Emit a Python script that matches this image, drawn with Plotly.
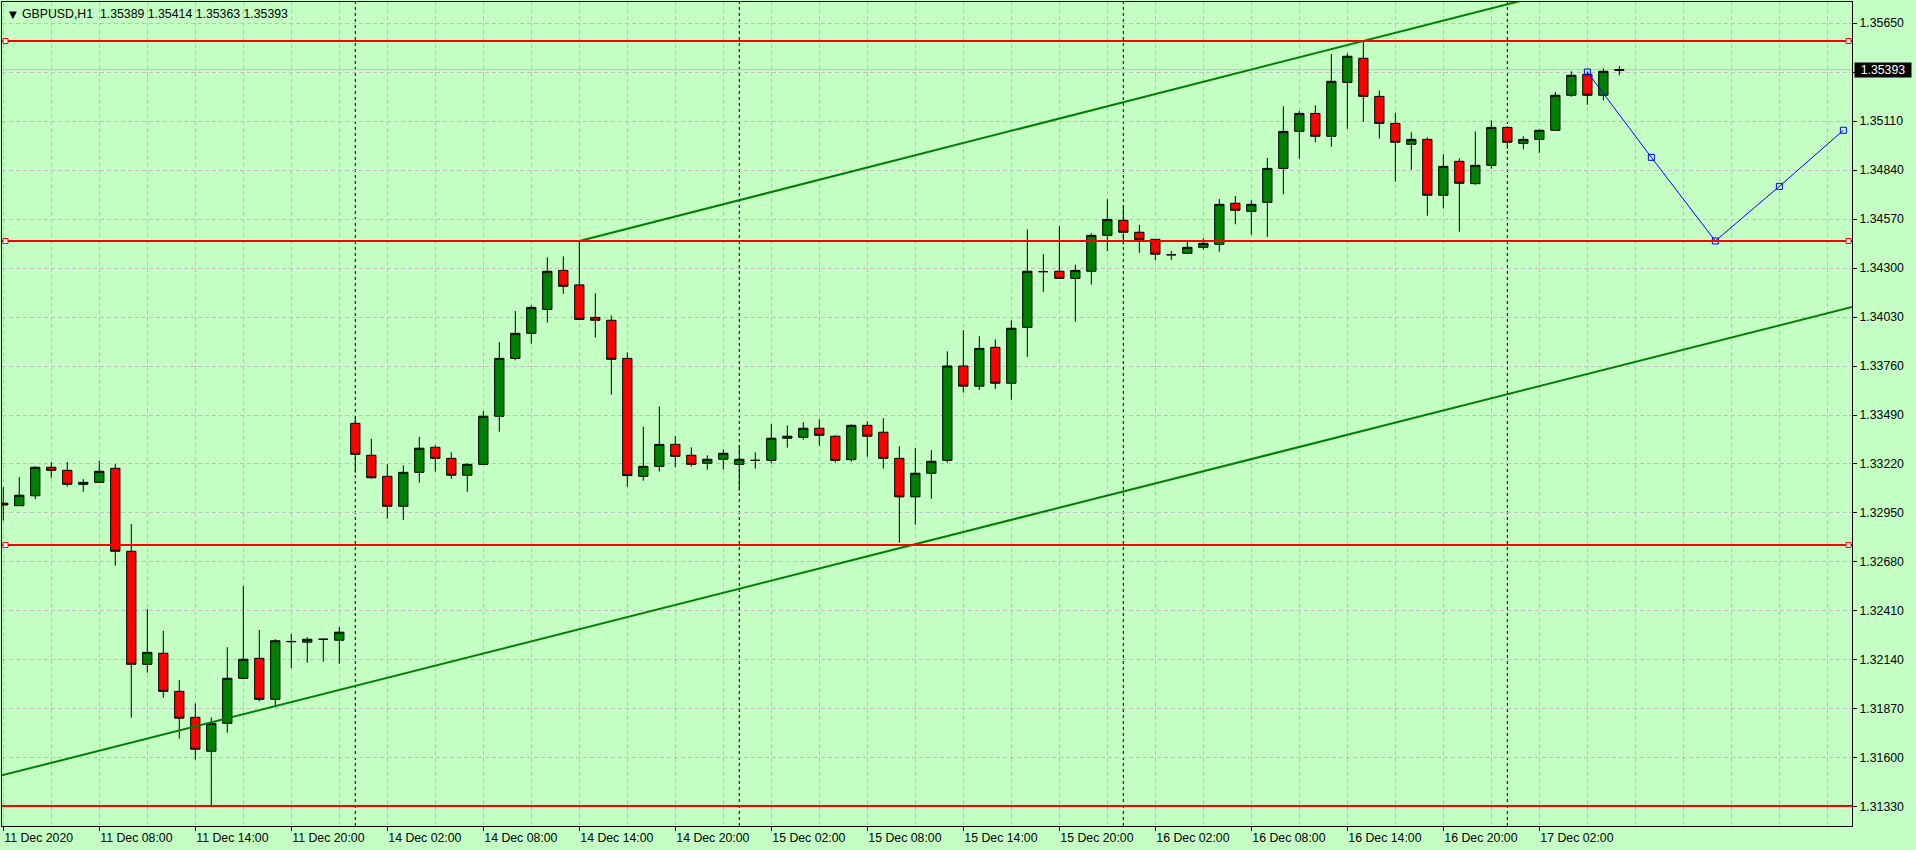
import plotly.graph_objects as go

# ---------------- data ----------------
symbol = "GBPUSD,H1"

bar_open = [1.33004, 1.32990, 1.33045, 1.33202, 1.33185, 1.33108, 1.33119, 1.33196, 1.32739, 1.32116,
            1.32177, 1.31967, 1.31824, 1.31637, 1.31791, 1.32039, 1.32149, 1.31923, 1.32240, 1.32238,
            1.32254, 1.32249, 1.33444, 1.33268, 1.33152, 1.32987, 1.33174, 1.33312, 1.33251, 1.33158,
            1.33218, 1.33483, 1.33802, 1.33940, 1.34072, 1.34287, 1.34207, 1.34028, 1.34012, 1.33802,
            1.33152, 1.33207, 1.33328, 1.33268, 1.33224, 1.33246, 1.33218, 1.33240, 1.33240, 1.33362,
            1.33367, 1.33417, 1.33373, 1.33244, 1.33433, 1.33395, 1.33251, 1.33039, 1.33169, 1.33240,
            1.33760, 1.33649, 1.33863, 1.33665, 1.33973, 1.34280, 1.34282, 1.34243, 1.34282, 1.34480,
            1.34563, 1.34497, 1.34458, 1.34373, 1.34381, 1.34414, 1.34431, 1.34657, 1.34612, 1.34662,
            1.34849, 1.35053, 1.35152, 1.35026, 1.35323, 1.35456, 1.35246, 1.35097, 1.34982, 1.35009,
            1.34701, 1.34888, 1.34765, 1.34866, 1.35075, 1.34987, 1.35009, 1.35059, 1.35252, 1.35367,
            1.35252, 1.35389]

bar_high = [1.33092, 1.33148, 1.33207, 1.33231, 1.33231, 1.33137, 1.33237, 1.33220, 1.32889, 1.32421,
            1.32300, 1.32030, 1.31901, 1.31824, 1.32210, 1.32548, 1.32305, 1.32254, 1.32283, 1.32265,
            1.32260, 1.32322, 1.33485, 1.33358, 1.33218, 1.33213, 1.33369, 1.33323, 1.33284, 1.33224,
            1.33512, 1.33891, 1.34063, 1.34094, 1.34359, 1.34364, 1.34449, 1.34161, 1.34039, 1.33835,
            1.33425, 1.33537, 1.33374, 1.33312, 1.33268, 1.33301, 1.33323, 1.33284, 1.33440, 1.33433,
            1.33450, 1.33466, 1.33378, 1.33439, 1.33455, 1.33472, 1.33317, 1.33308, 1.33297, 1.33841,
            1.33957, 1.33924, 1.33907, 1.34012, 1.34513, 1.34376, 1.34532, 1.34318, 1.34491, 1.34679,
            1.34640, 1.34538, 1.34460, 1.34394, 1.34447, 1.34464, 1.34680, 1.34697, 1.34673, 1.34906,
            1.35191, 1.35165, 1.35197, 1.35479, 1.35483, 1.35551, 1.35279, 1.35156, 1.35048, 1.35020,
            1.34927, 1.34904, 1.35053, 1.35114, 1.35080, 1.35026, 1.35064, 1.35270, 1.35384, 1.35384,
            1.35400, 1.35414]

bar_low = [1.32908, 1.32990, 1.33027, 1.33144, 1.33095, 1.33067, 1.33119, 1.32660, 1.31822, 1.32070,
           1.31932, 1.31706, 1.31591, 1.31335, 1.31739, 1.32034, 1.31912, 1.31879, 1.32095, 1.32125,
           1.32131, 1.32120, 1.33172, 1.33139, 1.32919, 1.32911, 1.33117, 1.33178, 1.33139, 1.33067,
           1.33218, 1.33398, 1.33791, 1.33883, 1.33999, 1.34158, 1.34017, 1.33917, 1.33602, 1.33094,
           1.33128, 1.33178, 1.33202, 1.33206, 1.33189, 1.33189, 1.33073, 1.33194, 1.33222, 1.33310,
           1.33354, 1.33321, 1.33228, 1.33233, 1.33260, 1.33194, 1.32786, 1.32886, 1.33028, 1.33228,
           1.33614, 1.33628, 1.33634, 1.33574, 1.33811, 1.34169, 1.34243, 1.34004, 1.34208, 1.34392,
           1.34431, 1.34384, 1.34344, 1.34344, 1.34379, 1.34403, 1.34390, 1.34541, 1.34483, 1.34472,
           1.34706, 1.34902, 1.34993, 1.34968, 1.35068, 1.35106, 1.35013, 1.34776, 1.34842, 1.34588,
           1.34628, 1.34500, 1.34759, 1.34847, 1.34957, 1.34954, 1.34935, 1.35059, 1.35244, 1.35200,
           1.35224, 1.35363]

bar_close = [1.32994, 1.33048, 1.33202, 1.33185, 1.33108, 1.33119, 1.33180, 1.32739, 1.32116, 1.32182,
             1.31967, 1.31819, 1.31648, 1.31791, 1.32039, 1.32144, 1.31923, 1.32246, 1.32242, 1.32254,
             1.32254, 1.32293, 1.33273, 1.33144, 1.32987, 1.33174, 1.33307, 1.33251, 1.33158, 1.33218,
             1.33483, 1.33802, 1.33940, 1.34083, 1.34282, 1.34199, 1.34017, 1.34012, 1.33797, 1.33156,
             1.33207, 1.33328, 1.33262, 1.33218, 1.33246, 1.33279, 1.33246, 1.33240, 1.33362, 1.33373,
             1.33417, 1.33378, 1.33240, 1.33433, 1.33373, 1.33251, 1.33039, 1.33169, 1.33235, 1.33760,
             1.33649, 1.33857, 1.33665, 1.33968, 1.34282, 1.34280, 1.34243, 1.34287, 1.34480, 1.34568,
             1.34497, 1.34456, 1.34376, 1.34373, 1.34414, 1.34436, 1.34651, 1.34618, 1.34651, 1.34849,
             1.35053, 1.35152, 1.35026, 1.35329, 1.35467, 1.35246, 1.35097, 1.34993, 1.35009, 1.34701,
             1.34860, 1.34767, 1.34866, 1.35075, 1.34993, 1.35009, 1.35059, 1.35252, 1.35362, 1.35252,
             1.35384, 1.35393]

tick_bars = [0, 6, 12, 18, 24, 30, 36, 42, 48, 54, 60, 66, 72, 78, 84, 90, 96]
tick_labels = ["11 Dec 2020", "11 Dec 08:00", "11 Dec 14:00", "11 Dec 20:00", "14 Dec 02:00",
               "14 Dec 08:00", "14 Dec 14:00", "14 Dec 20:00", "15 Dec 02:00", "15 Dec 08:00",
               "15 Dec 14:00", "15 Dec 20:00", "16 Dec 02:00", "16 Dec 08:00", "16 Dec 14:00",
               "16 Dec 20:00", "17 Dec 02:00"]
grid_bars = list(range(0, 118, 3))
day_start_bars = [22, 46, 70, 94]

price_ticks = [1.31330, 1.31600, 1.31870, 1.32140, 1.32410, 1.32680, 1.32950, 1.33220, 1.33490,
               1.33760, 1.34030, 1.34300, 1.34570, 1.34840, 1.35110, 1.35380, 1.35650]
price_tick_labels = ["1.31330", "1.31600", "1.31870", "1.32140", "1.32410", "1.32680", "1.32950",
                     "1.33220", "1.33490", "1.33760", "1.34030", "1.34300", "1.34570", "1.34840",
                     "1.35110", "", "1.35650"]

level_lines = [1.35551, 1.34449, 1.32774]
low_line = 1.31335

upper_trend_x = [36, 85]
upper_trend_y = [1.34449, 1.35551]
lower_trend_x = [0, 115]
lower_trend_y = [1.31506, 1.34073]

forecast_x = [99, 103, 107, 111, 115]
forecast_y = [1.35380, 1.34910, 1.34449, 1.34750, 1.35059]

x_range = [-0.08, 115.54]
y_range = [1.31225, 1.35766]

# ---------------- styles ----------------
BG = "#C4FFC4"
GRID = "#C6BCC6"
FONT = "Liberation Sans"
FS = 12.3

fig = go.Figure()

fig.add_trace(go.Candlestick(
    x=list(range(len(bar_open))),
    open=bar_open, high=bar_high, low=bar_low, close=bar_close,
    increasing=dict(line=dict(color="black", width=1), fillcolor="#008000"),
    decreasing=dict(line=dict(color="black", width=1), fillcolor="#FF0000"),
    whiskerwidth=0, showlegend=False, hoverinfo="skip",
))

# trend lines (rays through anchors)
su = (upper_trend_y[1] - upper_trend_y[0]) / (upper_trend_x[1] - upper_trend_x[0])
xe = x_range[1] + 20
fig.add_trace(go.Scatter(
    x=[upper_trend_x[0], xe],
    y=[upper_trend_y[0], upper_trend_y[0] + su * (xe - upper_trend_x[0])],
    mode="lines", line=dict(color="#008000", width=2), showlegend=False, hoverinfo="skip"))
sl = (lower_trend_y[1] - lower_trend_y[0]) / (lower_trend_x[1] - lower_trend_x[0])
xs0, xs1 = x_range[0] - 2, x_range[1] + 2
fig.add_trace(go.Scatter(
    x=[xs0, xs1],
    y=[lower_trend_y[0] + sl * (xs0 - lower_trend_x[0]), lower_trend_y[0] + sl * (xs1 - lower_trend_x[0])],
    mode="lines", line=dict(color="#008000", width=2), showlegend=False, hoverinfo="skip"))

# forecast polyline
fig.add_trace(go.Scatter(
    x=forecast_x, y=forecast_y, mode="lines+markers",
    line=dict(color="#0000FF", width=1),
    marker=dict(symbol="square-open", size=6, color="#0000FF", line=dict(width=1)),
    showlegend=False, hoverinfo="skip"))

shapes = []
# day separators
for b in day_start_bars:
    shapes.append(dict(type="line", xref="x", yref="paper", x0=b, x1=b, y0=0, y1=1,
                       line=dict(color="black", width=1, dash="3px,3px"), layer="between"))
# bid line
shapes.append(dict(type="line", xref="paper", yref="y", x0=0, x1=1, y0=bar_close[-1], y1=bar_close[-1],
                   line=dict(color="#C0C0C0", width=1), layer="between"))
# horizontal levels
for lv in level_lines + [low_line]:
    shapes.append(dict(type="line", xref="paper", yref="y", x0=0, x1=1, y0=lv, y1=lv,
                       line=dict(color="#FF0000", width=2), layer="above"))
# handles on levels
for lv in level_lines:
    for anchor, a, b in [(0, 1, 6), (1, -6, -1)]:
        shapes.append(dict(type="rect", xref="paper", yref="y", xsizemode="pixel", ysizemode="pixel",
                           xanchor=anchor, yanchor=lv, x0=a, x1=b, y0=-2.5, y1=2.5,
                           line=dict(color="#FF0000", width=1), fillcolor="white", layer="above"))

annotations = [
    dict(xref="paper", yref="paper", x=0, y=1, xanchor="left", yanchor="top", xshift=5, yshift=-5,
         text="▼", showarrow=False, font=dict(family="DejaVu Sans", size=10, color="black")),
    dict(xref="paper", yref="paper", x=0, y=1, xanchor="left", yanchor="top", xshift=18, yshift=-3,
         text=f"{symbol}\u00a0\u00a0{bar_open[-1]:.5f} {bar_high[-1]:.5f} {bar_low[-1]:.5f} {bar_close[-1]:.5f}",
         showarrow=False, font=dict(family=FONT, size=FS, color="black")),
    dict(xref="paper", yref="y", x=1, y=bar_close[-1], xanchor="left", yanchor="middle", xshift=2,
         text=f"{bar_close[-1]:.5f}", showarrow=False, bgcolor="black", width=56, height=14, borderpad=0,
         font=dict(family=FONT, size=FS, color="white")),
]

fig.update_layout(
    width=1916, height=850,
    margin=dict(l=2, r=64, t=2, b=24),
    paper_bgcolor=BG, plot_bgcolor=BG,
    font=dict(family=FONT, size=FS, color="black"),
    boxgap=0.42, boxgroupgap=0,
    shapes=shapes, annotations=annotations,
    showlegend=False,
    xaxis=dict(
        range=x_range, tickmode="array", tickvals=tick_bars, ticktext=tick_labels,
        ticks="outside", ticklen=4, tickcolor="black", ticklabelposition="outside right",
        showgrid=True, gridcolor=GRID, griddash="4px,3px", gridwidth=1,
        minor=dict(tickmode="array", tickvals=grid_bars, showgrid=True, gridcolor=GRID,
                   griddash="4px,3px", gridwidth=1, ticks=""),
        showline=True, linecolor="black", linewidth=1, mirror=True, zeroline=False,
        rangeslider=dict(visible=False), fixedrange=True,
    ),
    yaxis=dict(
        range=y_range, side="right", tickmode="array", tickvals=price_ticks, ticktext=price_tick_labels,
        ticks="outside", ticklen=4, tickcolor="black",
        showgrid=True, gridcolor=GRID, griddash="4px,3px", gridwidth=1,
        showline=True, linecolor="black", linewidth=1, mirror=True, zeroline=False, fixedrange=True,
    ),
)

fig.write_html(
    "out.html",
    config={"displayModeBar": False},
    post_script=f"document.body.style.margin='0px';document.body.style.background='{BG}';",
)
